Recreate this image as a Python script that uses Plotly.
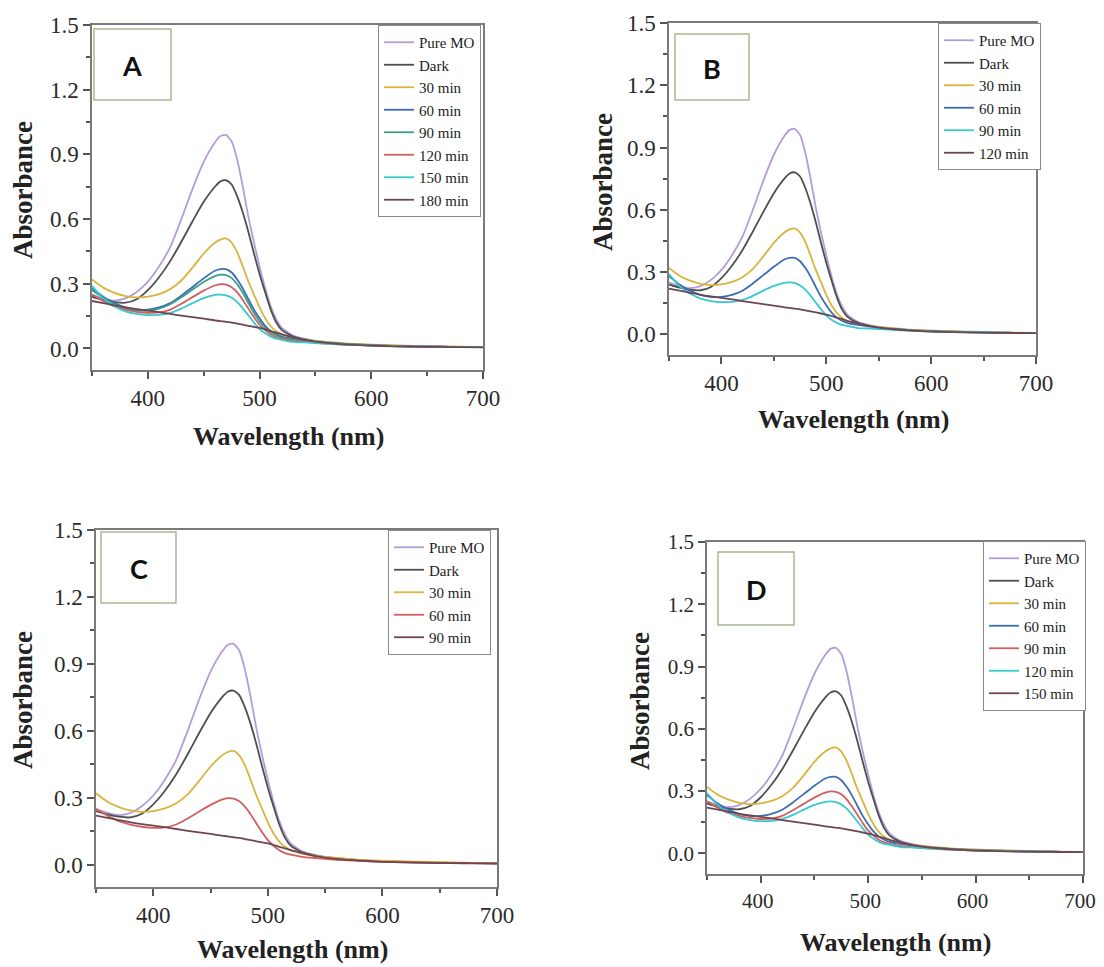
import plotly.graph_objects as go

# ---------------- data ----------------
wavelength = [350, 360, 370, 380, 390, 400, 410, 420, 430, 440, 450, 460, 465, 470, 475,
              480, 485, 490, 495, 500, 505, 510, 515, 520, 530, 540, 550, 560, 580, 600,
              620, 640, 660, 680, 700]

pure_mo = [0.25, 0.232, 0.222, 0.232, 0.262, 0.31, 0.38, 0.47, 0.60, 0.74, 0.865, 0.955, 0.985, 0.99, 0.96,
           0.875, 0.75, 0.61, 0.49, 0.38, 0.28, 0.195, 0.135, 0.095, 0.06, 0.045, 0.035, 0.03, 0.02, 0.015,
           0.012, 0.01, 0.008, 0.007, 0.006]
dark = [0.24, 0.225, 0.215, 0.212, 0.228, 0.27, 0.33, 0.405, 0.495, 0.59, 0.68, 0.75, 0.775, 0.78, 0.76,
        0.705, 0.63, 0.54, 0.44, 0.345, 0.26, 0.18, 0.12, 0.085, 0.055, 0.042, 0.034, 0.028, 0.02, 0.015,
        0.012, 0.01, 0.008, 0.007, 0.006]
t30 = [0.32, 0.282, 0.258, 0.243, 0.237, 0.24, 0.252, 0.275, 0.315, 0.375, 0.44, 0.49, 0.505, 0.51, 0.49,
       0.445, 0.38, 0.31, 0.25, 0.19, 0.14, 0.103, 0.08, 0.065, 0.05, 0.04, 0.035, 0.03, 0.022, 0.018,
       0.015, 0.012, 0.01, 0.008, 0.006]
blue_037 = [0.28, 0.24, 0.21, 0.19, 0.18, 0.18, 0.19, 0.21, 0.245, 0.285, 0.325, 0.36, 0.368, 0.368, 0.352,
            0.32, 0.278, 0.228, 0.18, 0.14, 0.105, 0.08, 0.065, 0.055, 0.045, 0.038, 0.032, 0.027, 0.02, 0.015,
            0.012, 0.01, 0.008, 0.007, 0.006]
green_034 = [0.27, 0.235, 0.205, 0.185, 0.175, 0.175, 0.185, 0.205, 0.237, 0.273, 0.308, 0.335, 0.342, 0.34, 0.326,
             0.298, 0.258, 0.21, 0.165, 0.125, 0.095, 0.075, 0.06, 0.05, 0.04, 0.035, 0.03, 0.025, 0.019, 0.014,
             0.011, 0.009, 0.008, 0.007, 0.006]
red_030 = [0.25, 0.22, 0.195, 0.18, 0.17, 0.165, 0.167, 0.18, 0.207, 0.238, 0.268, 0.292, 0.298, 0.296, 0.284,
           0.26, 0.225, 0.185, 0.145, 0.11, 0.085, 0.065, 0.052, 0.045, 0.035, 0.03, 0.026, 0.022, 0.017, 0.013,
           0.011, 0.009, 0.008, 0.007, 0.006]
cyan_025 = [0.29, 0.232, 0.196, 0.172, 0.16, 0.155, 0.156, 0.165, 0.185, 0.21, 0.233, 0.248, 0.25, 0.246, 0.235,
            0.215, 0.186, 0.153, 0.12, 0.09, 0.07, 0.055, 0.045, 0.04, 0.03, 0.028, 0.025, 0.022, 0.017, 0.013,
            0.011, 0.009, 0.008, 0.007, 0.006]
baseline = [0.22, 0.21, 0.20, 0.19, 0.182, 0.175, 0.168, 0.16, 0.152, 0.145, 0.138, 0.13, 0.127, 0.123, 0.12,
            0.115, 0.11, 0.105, 0.10, 0.095, 0.088, 0.08, 0.073, 0.065, 0.052, 0.04, 0.032, 0.026, 0.018, 0.013,
            0.01, 0.008, 0.007, 0.006, 0.005]

panel_letters = ["A", "B", "C", "D"]
labels_A = ["Pure MO", "Dark", "30 min", "60 min", "90 min", "120 min", "150 min", "180 min"]
labels_B = ["Pure MO", "Dark", "30 min", "60 min", "90 min", "120 min"]
labels_C = ["Pure MO", "Dark", "30 min", "60 min", "90 min"]
labels_D = ["Pure MO", "Dark", "30 min", "60 min", "90 min", "120 min", "150 min"]

# ---------------- styles ----------------
C_PURE, C_DARK, C_30 = "#b59cd8", "#4f4f4f", "#d8b53c"
C_BLUE, C_GREEN, C_RED = "#3b6db3", "#3a9e86", "#d25f60"
C_CYAN, C_BASE = "#38c8cf", "#6e4652"

panels = [
    (labels_A, [pure_mo, dark, t30, blue_037, green_034, red_030, cyan_025, baseline],
     [C_PURE, C_DARK, C_30, C_BLUE, C_GREEN, C_RED, C_CYAN, C_BASE]),
    (labels_B, [pure_mo, dark, t30, blue_037, cyan_025, baseline],
     [C_PURE, C_DARK, C_30, C_BLUE, C_CYAN, C_BASE]),
    (labels_C, [pure_mo, dark, t30, red_030, baseline],
     [C_PURE, C_DARK, C_30, C_RED, C_BASE]),
    (labels_D, [pure_mo, dark, t30, blue_037, red_030, cyan_025, baseline],
     [C_PURE, C_DARK, C_30, C_BLUE, C_RED, C_CYAN, C_BASE]),
]

# the page body has an 8px margin, so the figure starts at (8, 8) in the window
OFF = 8
W, H = 1104 - OFF, 967 - OFF
def px(x): return (x - OFF) / W
def py(y): return 1 - (y - OFF) / H

# positions in window pixels: plot areas (left, right, top, bottom)
areas = [(92, 483, 25, 370), (669, 1036, 23, 355), (96, 497, 530, 887), (707, 1083, 542, 874)]
legend_pos = [(378, 25), (938, 23), (388, 530), (983, 541)]
label_boxes = [(94, 171, 29, 100), (675, 749, 34, 100), (101, 176, 532, 603), (718, 794, 552, 625)]
ytitle_pos = [(23, 190), (603, 182), (23, 700), (640, 701)]
xtitle_pos = [(288, 436), (853, 420), (292, 949), (895, 942)]
tick_sizes = [23, 23, 23, 21]
xlabel_shift = [0, 0, 0, -3]

SERIF = "Liberation Serif"
fig = go.Figure()
layout = dict(width=W, height=H, margin=dict(l=0, r=0, t=0, b=0, pad=0, autoexpand=False),
              paper_bgcolor="white", plot_bgcolor="white", showlegend=True)
shapes, annotations = [], []

for i, (labels, series, colors) in enumerate(panels):
    n = i + 1
    xa = "x" if n == 1 else f"x{n}"
    ya = "y" if n == 1 else f"y{n}"
    lg = "legend" if n == 1 else f"legend{n}"
    for lab, vals, col in zip(labels, series, colors):
        fig.add_trace(go.Scatter(x=wavelength, y=vals, name=lab, mode="lines",
                                 line=dict(color=col, width=1.8, shape="spline", smoothing=0.6),
                                 xaxis=xa, yaxis=ya, legend=lg))
    l, r, t, b = areas[i]
    axis_common = dict(showline=True, linecolor="#7a7a7a", linewidth=1.5, mirror=True,
                       showgrid=False, zeroline=False, ticks="outside", ticklen=7,
                       tickwidth=1.5, tickcolor="#555", automargin=False,
                       tickfont=dict(family=SERIF, size=tick_sizes[i], color="#2a2a2a"))
    layout["xaxis" if n == 1 else f"xaxis{n}"] = dict(
        axis_common, domain=[px(l), px(r)], range=[350, 700], tick0=0, dtick=100,
        ticklabelshift=xlabel_shift[i],
        minor=dict(ticks="outside", ticklen=4, dtick=50, tick0=0, tickcolor="#555"),
        anchor=ya)
    layout["yaxis" if n == 1 else f"yaxis{n}"] = dict(
        axis_common, domain=[py(b), py(t)], range=[-0.1, 1.5], tick0=0, dtick=0.3,
        tickformat=".1f",
        minor=dict(ticks="outside", ticklen=4, dtick=0.15, tick0=0, tickcolor="#555"),
        anchor=xa)
    lx, ly = legend_pos[i]
    layout[lg] = dict(x=px(lx), y=py(ly), xanchor="left", yanchor="top",
                      bordercolor="#8a8a8a", borderwidth=1, bgcolor="white",
                      font=dict(family=SERIF, size=15, color="#222"),
                      tracegroupgap=0, itemwidth=30)
    bx0, bx1, by0, by1 = label_boxes[i]
    shapes.append(dict(type="rect", xref="paper", yref="paper",
                       x0=px(bx0), x1=px(bx1), y0=py(by1), y1=py(by0),
                       line=dict(color="#a9b98f", width=1.5), fillcolor="white"))
    annotations.append(dict(text=f"<b>{panel_letters[i]}</b>", xref="paper", yref="paper",
                            x=px((bx0 + bx1) / 2), y=py((by0 + by1) / 2 + 1),
                            xanchor="center", yanchor="middle",
                            showarrow=False, font=dict(family="Lato", size=27, color="#111")))
    yx, yy = ytitle_pos[i]
    annotations.append(dict(text="<b>Absorbance</b>", xref="paper", yref="paper",
                            x=px(yx), y=py(yy), textangle=-90, showarrow=False,
                            xanchor="center", yanchor="middle",
                            font=dict(family=SERIF, size=27, color="#222")))
    tx, ty = xtitle_pos[i]
    annotations.append(dict(text="<b>Wavelength (nm)</b>", xref="paper", yref="paper",
                            x=px(tx), y=py(ty), showarrow=False,
                            xanchor="center", yanchor="middle",
                            font=dict(family=SERIF, size=26, color="#222")))

layout["shapes"] = shapes
layout["annotations"] = annotations
fig.update_layout(**layout)
fig.write_html("out.html")
